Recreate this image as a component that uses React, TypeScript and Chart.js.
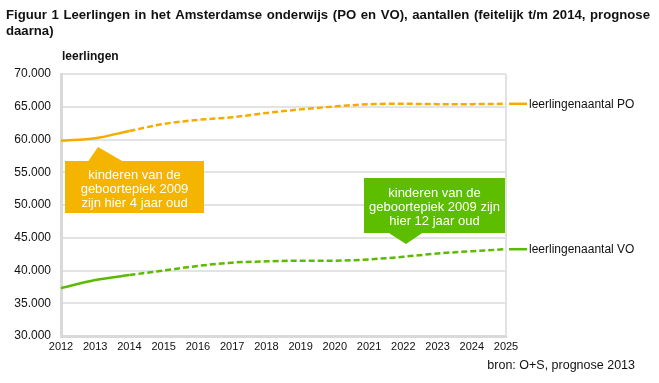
import React, { useEffect, useRef } from "react";
import { Chart, registerables } from "chart.js";
Chart.register(...registerables);

const years = ["2012","2013","2014","2015","2016","2017","2018","2019","2020","2021","2022","2023","2024","2025"];
const poValues = [59800, 60200, 61300, 62380, 63000, 63400, 64050, 64600, 65050, 65380, 65450, 65400, 65400, 65450];
const voValues = [37300, 38550, 39300, 40000, 40700, 41200, 41400, 41500, 41500, 41700, 42100, 42600, 42950, 43250];
const yTicks = [30000, 35000, 40000, 45000, 50000, 55000, 60000, 65000, 70000];
const titleLines = [
  "Figuur 1 Leerlingen in het Amsterdamse onderwijs (PO en VO), aantallen (feitelijk t/m 2014, prognose",
  "daarna)",
];
const yAxisTitle = "leerlingen";
const poLabel = "leerlingenaantal PO";
const voLabel = "leerlingenaantal VO";
const poCallout = ["kinderen van de", "geboortepiek 2009", "zijn hier 4 jaar oud"];
const voCallout = ["kinderen van de", "geboortepiek 2009 zijn", "hier 12 jaar oud"];
const sourceText = "bron: O+S, prognose 2013";
const lastActualIndex = 2;

const PO_COLOR = "#F5AC00";
const VO_COLOR = "#5CBB00";
const PO_BOX = "#F5B400";
const VO_BOX = "#5DBE00";
const FONT = "'Liberation Sans', Arial, sans-serif";

const fmt = (v: number) => String(v).replace(/\B(?=(\d{3})+(?!\d))/g, ".");

function drawJustified(ctx: CanvasRenderingContext2D, text: string, x: number, y: number, width: number) {
  const words = text.split(" ");
  const total = words.reduce((s, w) => s + ctx.measureText(w).width, 0);
  const gap = (width - total) / (words.length - 1);
  let cx = x;
  for (const w of words) {
    ctx.fillText(w, cx, y);
    cx += ctx.measureText(w).width + gap;
  }
}

const overlay = {
  id: "overlay",
  beforeDatasetsDraw(chart: any) {
    const { ctx, chartArea } = chart;
    ctx.save();
    ctx.strokeStyle = "#E2E2E2";
    ctx.lineWidth = 2;
    ctx.beginPath();
    ctx.moveTo(chartArea.right, chartArea.top);
    ctx.lineTo(chartArea.right, chartArea.bottom);
    ctx.stroke();
    ctx.restore();
  },
  afterDraw(chart: any) {
    const { ctx } = chart;
    const x = chart.scales.x;
    const y = chart.scales.y;
    ctx.save();
    // title
    ctx.fillStyle = "#111";
    ctx.font = `bold 12px ${FONT}`;
    const natural = ctx.measureText(titleLines[0]).width;
    const size = Math.min(13.5, (12 * 632) / natural);
    ctx.font = `bold ${size}px ${FONT}`;
    ctx.textBaseline = "middle";
    ctx.textAlign = "left";
    drawJustified(ctx, titleLines[0], 6, 15, 644);
    ctx.fillText(titleLines[1], 6, 31);
    ctx.font = `bold 12px ${FONT}`;
    ctx.fillText(yAxisTitle, 62, 57);

    // right labels
    const last = years.length - 1;
    const drawSeriesLabel = (vals: number[], color: string, label: string) => {
      const py = y.getPixelForValue(vals[last]);
      ctx.strokeStyle = color;
      ctx.lineWidth = 2.5;
      ctx.beginPath();
      ctx.moveTo(x.getPixelForValue(last) + 3, py);
      ctx.lineTo(x.getPixelForValue(last) + 21, py);
      ctx.stroke();
      ctx.fillStyle = "#111";
      ctx.font = `12px ${FONT}`;
      ctx.textAlign = "left";
      ctx.textBaseline = "middle";
      ctx.fillText(label, x.getPixelForValue(last) + 23, py + 0.5);
    };
    drawSeriesLabel(poValues, PO_COLOR, poLabel);
    drawSeriesLabel(voValues, VO_COLOR, voLabel);

    // callouts
    const callout = (
      left: number, top: number, right: number, bottom: number,
      tri: [number, number][], color: string, lines: string[], lineYs: number[]
    ) => {
      ctx.fillStyle = color;
      ctx.fillRect(left, top, right - left, bottom - top);
      ctx.beginPath();
      ctx.moveTo(tri[0][0], tri[0][1]);
      ctx.lineTo(tri[1][0], tri[1][1]);
      ctx.lineTo(tri[2][0], tri[2][1]);
      ctx.closePath();
      ctx.fill();
      ctx.fillStyle = "#FFFFFF";
      ctx.font = `13px ${FONT}`;
      ctx.textAlign = "center";
      ctx.textBaseline = "middle";
      lines.forEach((l, i) => ctx.fillText(l, (left + right) / 2, lineYs[i]));
    };
    callout(65, 161, 204, 213, [[88, 161.5], [98, 147], [123, 161.5]], PO_BOX, poCallout, [175, 189, 203]);
    callout(364, 178, 505, 233, [[388, 232.5], [406, 244], [423, 232.5]], VO_BOX, voCallout, [193, 207, 221]);

    // source
    ctx.fillStyle = "#111";
    ctx.font = `12.5px ${FONT}`;
    ctx.textAlign = "right";
    ctx.fillText(sourceText, 635, 366);
    ctx.restore();
  },
};

export default function App() {
  const ref = useRef<HTMLCanvasElement>(null);
  useEffect(() => {
    document.body.style.margin = "0";
    const seg = (ctx: any) => (ctx.p0DataIndex >= lastActualIndex ? [6, 3] : undefined);
    const chart = new Chart(ref.current!, {
      type: "line",
      data: {
        labels: years,
        datasets: [
          {
            label: poLabel,
            data: poValues,
            borderColor: PO_COLOR,
            borderWidth: 2.5,
            pointRadius: 0,
            cubicInterpolationMode: "monotone",
            segment: { borderDash: seg },
          },
          {
            label: voLabel,
            data: voValues,
            borderColor: VO_COLOR,
            borderWidth: 2.5,
            pointRadius: 0,
            cubicInterpolationMode: "monotone",
            segment: { borderDash: seg },
          },
        ],
      },
      options: {
        responsive: false,
        animation: false,
        layout: { padding: { left: 0, top: 74, right: 153, bottom: 0 } },
        plugins: { legend: { display: false }, title: { display: false }, tooltip: { enabled: false } },
        scales: {
          x: {
            offset: false,
            grid: { display: false, drawTicks: false },
            border: { display: true, color: "#D9D9D9", width: 3 },
            ticks: {
              color: "#111",
              font: { family: FONT, size: 11 },
              maxRotation: 0,
              autoSkip: false,
              padding: 4,
            },
            afterFit: (s: any) => { s.height = 47; },
          },
          y: {
            min: 30000,
            max: 70000,
            afterBuildTicks: (s: any) => { s.ticks = yTicks.map((v) => ({ value: v })); },
            grid: { color: "#E3E3E3", lineWidth: 2, drawTicks: false },
            border: { display: true, color: "#D9D9D9", width: 3 },
            ticks: {
              color: "#111",
              font: { family: FONT, size: 12 },
              padding: 10,
              callback: (v: any) => fmt(Number(v)),
            },
            afterFit: (s: any) => { s.width = 61; },
          },
        },
      },
      plugins: [overlay],
    });
    return () => chart.destroy();
  }, []);
  return (
    <div style={{ position: "absolute", left: 0, top: 0, width: 659, height: 383 }}>
      <canvas ref={ref} width={659} height={383} />
    </div>
  );
}
